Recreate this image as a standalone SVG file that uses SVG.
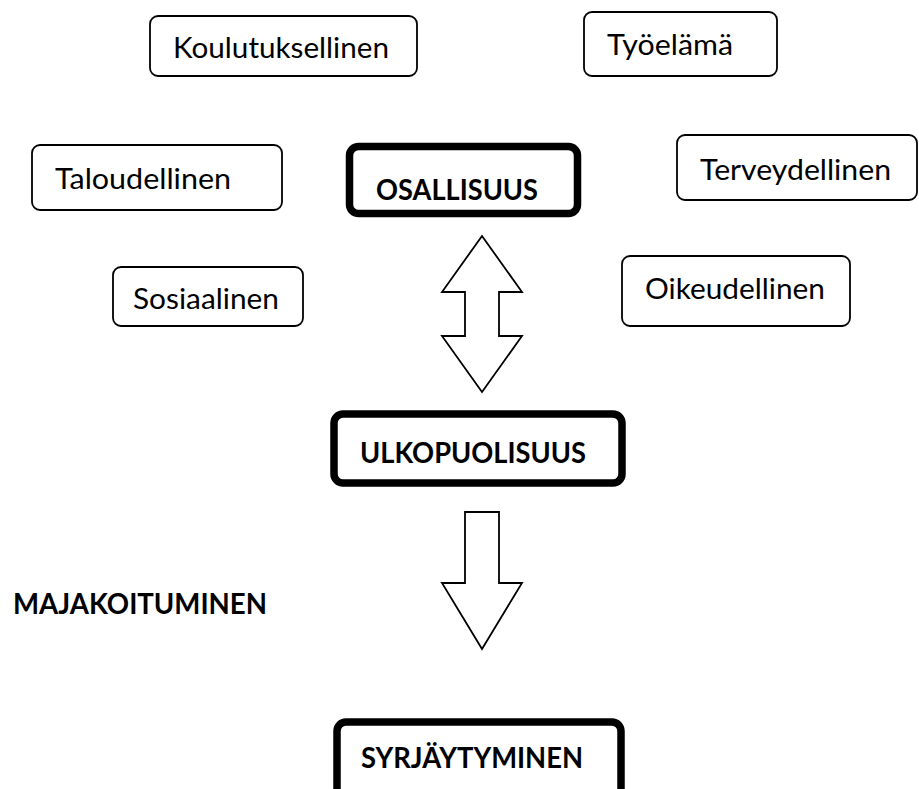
<svg xmlns="http://www.w3.org/2000/svg" width="919" height="789" viewBox="0 0 919 789">
<style>
.box{fill:#fff;stroke:#000;stroke-width:1.8}
.main{fill:#fff;stroke:#000;stroke-width:7.5}
.lbl{font-family:Lato,"Open Sans","Liberation Sans",sans-serif;font-size:29px;fill:#000}
.bold{font-family:Lato,"Open Sans","Liberation Sans",sans-serif;font-size:29px;font-weight:bold;fill:#000}
.arrow{fill:#fff;stroke:#000;stroke-width:1.8;stroke-linejoin:miter}
</style>
<rect width="919" height="789" fill="#fff"/>
<g id="koulutuksellinen"><rect class="box" x="150" y="16" width="267" height="60" rx="8"/><text class="lbl" x="173" y="58" textLength="216" lengthAdjust="spacingAndGlyphs">Koulutuksellinen</text></g>
<g id="tyoelama"><rect class="box" x="584" y="12" width="193" height="64" rx="8"/><text class="lbl" x="607" y="55" textLength="126" lengthAdjust="spacingAndGlyphs">Työelämä</text></g>
<g id="taloudellinen"><rect class="box" x="32" y="145" width="250" height="65" rx="8"/><text class="lbl" x="55" y="189" textLength="176" lengthAdjust="spacingAndGlyphs">Taloudellinen</text></g>
<g id="osallisuus"><rect class="main" x="349.5" y="146.5" width="228" height="67" rx="9"/><text class="bold" x="376" y="200" textLength="162" lengthAdjust="spacingAndGlyphs">OSALLISUUS</text></g>
<g id="terveydellinen"><rect class="box" x="677" y="135" width="240" height="65" rx="8"/><text class="lbl" x="700" y="180" textLength="191" lengthAdjust="spacingAndGlyphs">Terveydellinen</text></g>
<g id="sosiaalinen"><rect class="box" x="113" y="267" width="190" height="59" rx="8"/><text class="lbl" x="133" y="309" textLength="146" lengthAdjust="spacingAndGlyphs">Sosiaalinen</text></g>
<g id="oikeudellinen"><rect class="box" x="622" y="256" width="228" height="70" rx="8"/><text class="lbl" x="645" y="299" textLength="180" lengthAdjust="spacingAndGlyphs">Oikeudellinen</text></g>
<g id="ulkopuolisuus"><rect class="main" x="334" y="414" width="288" height="69" rx="9"/><text class="bold" x="360" y="463" textLength="226" lengthAdjust="spacingAndGlyphs">ULKOPUOLISUUS</text></g>
<g id="majakoituminen"><text class="bold" x="13" y="614" textLength="254" lengthAdjust="spacingAndGlyphs">MAJAKOITUMINEN</text></g>
<g id="syrjaytyminen"><rect class="main" x="337" y="722" width="284" height="80" rx="9"/><text class="bold" x="361" y="768" textLength="222" lengthAdjust="spacingAndGlyphs">SYRJÄYTYMINEN</text></g>
<g id="connectors">
<polygon class="arrow" points="482,236 522,292 499,292 499,336 522,336 482,392 442,336 465,336 465,292 442,292"/>
<polygon class="arrow" points="465,512 499,512 499,583 522,583 482,649 442,583 465,583"/>
</g>
</svg>
